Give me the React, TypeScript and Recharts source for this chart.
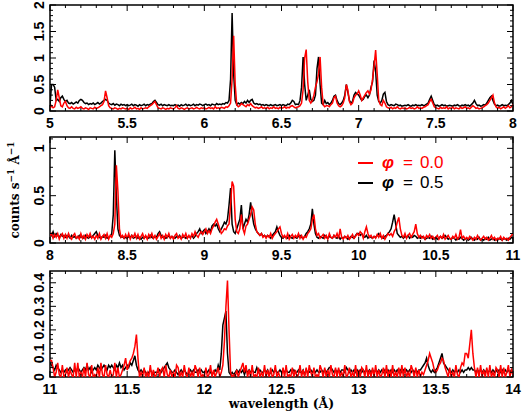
import React from 'react';
import { LineChart, Line, XAxis, YAxis, ReferenceArea } from 'recharts';

// wavelength grid: bins of 0.01 Å starting at each panel's left edge
const BIN = 0.01;
const startA = 5;
const startB = 8;
const startC = 11;

const seriesNames = ['\u03c6 = 0.0', '\u03c6 = 0.5'];
const seriesColors = ['#ff0000', '#000000'];

// ---- panel A (5–8 Å)
const phi05A = [
  .1,.5,.5,.45,.2,.22,.18,.25,.28,.22,
  .18,.2,.15,.14,.16,.13,.15,.17,.15,.2,
  .22,.2,.16,.14,.15,.12,.14,.13,.15,.12,
  .14,.16,.13,.15,.18,.2,.22,.2,.15,.13,
  .12,.14,.11,.13,.12,.1,.13,.11,.12,.1,
  .12,.1,.11,.13,.1,.12,.11,.09,.12,.1,
  .11,.13,.1,.12,.11,.13,.14,.18,.2,.16,
  .12,.11,.13,.1,.12,.11,.1,.12,.1,.11,
  .1,.12,.1,.11,.09,.12,.1,.11,.13,.1,
  .12,.1,.11,.13,.1,.12,.11,.13,.12,.1,
  .12,.13,.11,.12,.1,.13,.12,.11,.14,.12,
  .13,.12,.14,.13,.16,.15,.2,.6,1.85,.7,
  .2,.12,.15,.13,.16,.14,.18,.15,.2,.16,
  .2,.22,.15,.13,.14,.12,.13,.11,.12,.1,
  .12,.11,.1,.12,.1,.11,.12,.1,.11,.12,
  .1,.12,.11,.1,.13,.12,.15,.2,.18,.12,
  .13,.12,.2,.45,1.02,.5,.2,.3,.4,.22,
  .18,.2,.3,.8,1.02,.5,.15,.12,.2,.14,
  .16,.12,.15,.2,.28,.3,.2,.14,.12,.15,
  .2,.3,.5,.35,.2,.15,.18,.3,.35,.32,
  .3,.25,.2,.22,.28,.3,.25,.3,.45,.55,
  .95,.75,.3,.18,.15,.2,.32,.35,.18,.12,
  .1,.12,.11,.1,.13,.12,.1,.11,.09,.1,
  .11,.1,.12,.1,.09,.11,.1,.12,.1,.11,
  .1,.12,.1,.11,.13,.15,.22,.28,.2,.12,
  .1,.11,.09,.1,.12,.1,.11,.09,.1,.11,
  .1,.09,.11,.1,.12,.1,.09,.11,.1,.12,
  .1,.11,.09,.12,.15,.2,.14,.1,.11,.09,
  .1,.12,.11,.15,.2,.25,.28,.2,.13,.1,
  .11,.09,.1,.12,.1,.11,.1,.12,.15,.2,
  .12,
];
const phi00A = [
  .05,.1,.06,.08,.2,.4,.25,.1,.08,.15,
  .18,.1,.06,.05,.08,.05,.04,.07,.05,.06,
  .08,.05,.04,.06,.05,.03,.06,.05,.04,.07,
  .05,.06,.08,.1,.12,.18,.38,.25,.1,.06,
  .05,.04,.06,.05,.03,.05,.04,.06,.05,.04,
  .05,.03,.06,.04,.05,.07,.04,.05,.03,.06,
  .04,.05,.06,.05,.08,.1,.12,.15,.18,.12,
  .06,.05,.04,.06,.05,.03,.05,.04,.06,.05,
  .04,.06,.1,.05,.04,.06,.05,.03,.05,.06,
  .04,.05,.06,.04,.05,.07,.05,.04,.06,.05,
  .06,.04,.05,.07,.05,.06,.04,.08,.05,.06,
  .05,.07,.06,.05,.08,.07,.1,.15,.6,1.42,
  .5,.12,.08,.1,.14,.12,.1,.08,.12,.1,
  .14,.1,.08,.06,.07,.05,.06,.08,.05,.06,
  .05,.07,.04,.06,.05,.08,.05,.06,.04,.07,
  .05,.06,.08,.05,.07,.06,.09,.1,.08,.06,
  .07,.08,.1,.15,.4,1.0,1.16,.55,.2,.15,
  .2,.3,.45,.55,.7,1.02,.45,.12,.08,.1,
  .1,.08,.12,.15,.25,.28,.15,.1,.08,.1,
  .15,.25,.5,.4,.18,.12,.15,.25,.3,.32,
  .38,.3,.2,.25,.3,.35,.38,.32,.4,.6,
  .85,1.15,.7,.2,.12,.1,.2,.15,.08,.06,
  .05,.07,.04,.06,.05,.08,.05,.04,.06,.05,
  .06,.04,.05,.07,.05,.06,.04,.05,.08,.05,
  .06,.05,.07,.08,.1,.12,.18,.22,.15,.08,
  .06,.05,.04,.07,.05,.06,.05,.08,.04,.06,
  .05,.07,.04,.06,.05,.04,.07,.05,.06,.08,
  .05,.06,.04,.07,.1,.08,.05,.06,.04,.05,
  .06,.08,.1,.12,.15,.2,.25,.3,.15,.08,
  .05,.07,.04,.06,.08,.05,.07,.1,.06,.08,
  .12,
];

// ---- panel B (8–11 Å)
const phi05B = [
  .1,.08,.12,.07,.1,.08,.06,.09,.07,.08,
  .06,.08,.07,.05,.08,.06,.07,.05,.06,.08,
  .06,.07,.05,.08,.06,.05,.07,.06,.08,.1,
  .12,.08,.06,.05,.07,.06,.08,.05,.06,.07,
  .1,.3,.98,.5,.15,.08,.06,.07,.05,.06,
  .05,.07,.06,.08,.05,.06,.07,.05,.06,.04,
  .06,.05,.07,.06,.05,.08,.06,.05,.07,.06,
  .1,.12,.08,.06,.07,.05,.06,.08,.05,.07,
  .06,.05,.07,.06,.08,.05,.06,.07,.05,.06,
  .07,.06,.08,.05,.07,.1,.12,.15,.1,.12,
  .14,.1,.12,.15,.12,.18,.2,.18,.2,.15,
  .12,.15,.18,.22,.2,.25,.4,.58,.2,.12,
  .1,.15,.2,.25,.4,.15,.2,.25,.22,.3,
  .43,.3,.2,.15,.12,.1,.08,.1,.07,.08,
  .06,.08,.07,.05,.08,.1,.12,.17,.12,.08,
  .06,.05,.07,.06,.05,.08,.06,.05,.07,.06,
  .05,.07,.08,.06,.05,.07,.1,.12,.15,.2,
  .36,.2,.1,.06,.05,.07,.06,.05,.08,.06,
  .05,.07,.06,.05,.08,.06,.05,.07,.04,.06,
  .05,.07,.06,.04,.05,.07,.06,.05,.08,.1,
  .1,.08,.1,.07,.06,.08,.05,.07,.06,.05,
  .07,.06,.08,.1,.07,.06,.05,.07,.08,.1,
  .12,.15,.22,.3,.2,.1,.08,.06,.07,.05,
  .07,.06,.08,.05,.07,.06,.08,.07,.05,.06,
  .05,.07,.06,.04,.05,.06,.05,.07,.04,.05,
  .06,.04,.05,.07,.05,.06,.08,.06,.04,.05,
  .04,.06,.05,.03,.05,.04,.06,.05,.03,.04,
  .05,.03,.04,.06,.04,.03,.05,.04,.06,.03,
  .04,.03,.05,.04,.06,.03,.04,.05,.03,.04,
  .03,.05,.04,.03,.05,.04,.03,.05,.04,.06,
  .05,
];
const phi00B = [
  .08,.1,.05,.09,.06,.1,.04,.08,.1,.05,
  .09,.05,.1,.06,.04,.08,.1,.05,.07,.04,
  .1,.05,.08,.04,.09,.06,.1,.05,.07,.04,
  .08,.05,.1,.04,.07,.09,.05,.1,.04,.08,
  .06,.1,.2,.82,.55,.15,.06,.08,.05,.09,
  .05,.1,.04,.08,.06,.1,.05,.09,.04,.07,
  .1,.05,.08,.04,.09,.06,.1,.05,.08,.04,
  .07,.1,.05,.08,.04,.09,.06,.1,.05,.07,
  .04,.08,.1,.05,.07,.04,.09,.06,.1,.05,
  .08,.05,.1,.07,.12,.08,.06,.1,.12,.09,
  .12,.15,.1,.13,.1,.15,.18,.22,.25,.2,
  .15,.1,.12,.15,.14,.18,.2,.4,.65,.6,
  .25,.12,.1,.15,.3,.15,.1,.18,.2,.25,
  .3,.38,.35,.2,.12,.1,.08,.1,.06,.08,
  .05,.08,.06,.1,.05,.08,.1,.12,.15,.17,
  .1,.06,.08,.05,.1,.04,.07,.09,.05,.08,
  .06,.1,.05,.08,.04,.07,.06,.1,.12,.15,
  .25,.3,.15,.08,.1,.05,.07,.09,.05,.08,
  .04,.1,.06,.05,.08,.06,.1,.05,.15,.06,
  .04,.07,.05,.08,.04,.06,.09,.05,.07,.1,
  .08,.12,.1,.05,.12,.17,.1,.06,.08,.05,
  .07,.05,.09,.06,.1,.05,.08,.04,.07,.1,
  .08,.1,.07,.12,.15,.22,.27,.15,.08,.06,
  .1,.05,.08,.1,.06,.09,.12,.2,.1,.06,
  .08,.05,.07,.04,.08,.06,.09,.05,.07,.04,
  .06,.08,.04,.07,.05,.09,.04,.06,.08,.05,
  .04,.07,.05,.09,.04,.06,.14,.05,.07,.04,
  .06,.04,.07,.05,.03,.06,.04,.08,.05,.03,
  .05,.07,.04,.06,.03,.05,.08,.04,.06,.03,
  .05,.04,.07,.03,.06,.04,.05,.03,.06,.08,
  .1,
];

// ---- panel C (11–14 Å)
const phi05C = [
  .06,.05,.04,.03,.05,.04,.03,.02,.03,.02,
  .03,.02,.03,.04,.03,.02,.03,.02,.04,.03,
  .02,.03,.04,.03,.05,.03,.04,.02,.03,.04,
  .03,.05,.04,.03,.04,.05,.04,.03,.05,.04,
  .05,.04,.03,.05,.04,.06,.04,.05,.03,.04,
  .05,.04,.06,.05,.07,.09,.05,.03,.02,.03,
  .02,.03,.02,.01,.02,.03,.02,.01,.02,.02,
  .02,.03,.02,.03,.04,.05,.06,.04,.03,.02,
  .02,.03,.02,.01,.02,.03,.02,.03,.02,.01,
  .02,.03,.02,.03,.02,.02,.03,.02,.03,.02,
  .02,.03,.02,.03,.02,.01,.02,.03,.02,.05,
  .03,.1,.22,.25,.28,.1,.02,.01,.02,.01,
  .02,.03,.02,.03,.02,.03,.01,.03,.02,.03,
  .02,.03,.02,.02,.04,.02,.03,.02,.02,.03,
  .02,.03,.01,.02,.03,.02,.03,.02,.02,.03,
  .02,.03,.02,.03,.02,.02,.03,.02,.03,.02,
  .02,.03,.02,.02,.03,.01,.03,.02,.02,.03,
  .02,.03,.02,.03,.02,.02,.03,.02,.03,.02,
  .03,.04,.04,.03,.02,.03,.02,.03,.02,.03,
  .03,.02,.04,.03,.02,.03,.02,.03,.02,.03,
  .02,.03,.02,.03,.02,.03,.02,.03,.02,.03,
  .02,.03,.02,.03,.02,.03,.02,.03,.02,.03,
  .02,.03,.02,.03,.02,.03,.02,.03,.02,.03,
  .02,.03,.02,.03,.02,.03,.02,.03,.02,.03,
  .03,.04,.05,.06,.08,.05,.03,.02,.03,.02,
  .03,.04,.06,.08,.1,.06,.05,.04,.03,.02,
  .02,.03,.02,.03,.02,.03,.02,.03,.02,.03,
  .03,.04,.03,.04,.03,.03,.02,.03,.02,.03,
  .02,.03,.02,.03,.02,.03,.02,.03,.02,.03,
  .02,.03,.02,.03,.02,.03,.02,.03,.02,.03,
  .02,
];
const phi00C = [
  .07,.07,.04,0,.02,.06,.01,0,.05,0,
  .01,.04,0,.03,.01,0,.06,0,.06,0,
  .02,0,.04,0,.06,.01,0,.05,0,.01,
  0,.04,0,.06,.01,0,.05,.01,0,.03,
  0,.01,.06,0,.04,0,.01,.03,.05,.08,
  .03,.05,.07,.08,.1,.13,.18,.08,0,.02,
  0,.04,0,.02,0,.05,0,.03,0,.01,
  .04,0,.03,.04,0,.05,.01,0,.03,0,
  .02,0,.05,.04,0,.02,0,.05,.01,0,
  .04,0,.02,0,.05,.03,0,.04,0,.01,
  0,.04,0,.01,.05,0,.03,0,.02,.04,
  0,.02,.05,.15,.3,.41,.2,.02,0,.01,
  0,.03,0,.02,.04,.06,.02,.05,0,.03,
  0,.05,0,.01,0,.04,0,.02,0,.05,
  0,.03,0,.04,0,.01,.05,0,.02,0,
  0,.04,0,.05,0,.01,0,.04,0,.03,
  0,.01,.05,0,.03,0,.04,0,.05,.02,
  0,.04,0,.01,0,.05,.03,0,.04,0,
  .03,0,.05,.01,0,.04,0,.04,0,.02,
  0,.05,0,.01,.04,0,.02,0,.05,0,
  .03,0,.04,.03,0,.05,0,.03,0,.04,
  0,.05,0,.03,0,.01,.04,0,.05,0,
  .03,0,.05,0,.02,0,.04,0,.05,0,
  .04,0,.02,0,.05,.03,0,.04,0,.03,
  0,.02,.01,.03,.05,.07,.1,.08,.06,.03,
  .02,.03,.05,.06,.08,.07,.04,.02,0,.04,
  0,.02,0,.05,.01,0,.04,.06,.05,.1,
  .1,.08,.14,.2,.1,.04,0,.04,0,.05,
  0,.03,0,.04,0,.05,0,.02,0,.04,
  .03,0,.05,0,.04,0,.02,.05,0,.03,
  .01,
];

// ---- axis labels
const xMajorA = [5, 5.5, 6, 6.5, 7, 7.5, 8];
const xMajorB = [8, 8.5, 9, 9.5, 10, 10.5, 11];
const xMajorC = [11, 11.5, 12, 12.5, 13, 13.5, 14];
const yMajorA = [0, 0.5, 1, 1.5, 2];
const yMajorB = [0, 0.5, 1];
const yMajorC = [0, 0.1, 0.2, 0.3, 0.4];

type Row = { wl: number; phi00: number; phi05: number };
function buildRows(start: number, p00: number[], p05: number[]): Row[] {
  return p00.map((v, i) => ({ wl: Math.round((start + i * BIN) * 1000) / 1000, phi00: v, phi05: p05[i] }));
}
function gridTicks(lo: number, hi: number, step: number): number[] {
  const n = Math.floor((hi - lo) / step + 1e-6);
  const out: number[] = [];
  for (let i = 0; i <= n; i++) out.push(Math.round((lo + i * step) * 1000) / 1000);
  return out;
}
const isIn = (arr: number[], v: number) => arr.some((m) => Math.abs(m - v) < 1e-6);

const PLOT_W = 463;
const TICK_FONT = "'Liberation Sans', Arial, Helvetica, sans-serif";
const TITLE_FONT = "'DejaVu Serif', 'Liberation Serif', serif";

const XTick = (props: any) => {
  const { x, y, payload, majors, plotH } = props;
  const v = payload.value;
  const major = isIn(majors, v);
  const len = major ? 6 : 3;
  return (
    <g>
      <line x1={x} x2={x} y1={y} y2={y - len} stroke="#000" strokeWidth={1} />
      <line x1={x} x2={x} y1={y - plotH} y2={y - plotH + len} stroke="#000" strokeWidth={1} />
      {major && (
        <text x={x} y={y + 17} textAnchor="middle" fontFamily={TICK_FONT} fontWeight={700} fontSize={14} fill="#000">
          {String(v)}
        </text>
      )}
    </g>
  );
};

const YTick = (props: any) => {
  const { x, y, payload, majors } = props;
  const v = payload.value;
  const major = isIn(majors, v);
  const len = major ? 6 : 3;
  const tx = x - 6;
  return (
    <g>
      <line x1={x} x2={x + len} y1={y} y2={y} stroke="#000" strokeWidth={1} />
      <line x1={x + PLOT_W} x2={x + PLOT_W - len} y1={y} y2={y} stroke="#000" strokeWidth={1} />
      {major && (
        <text
          x={tx}
          y={y}
          transform={`rotate(-90 ${tx} ${y})`}
          textAnchor="middle"
          fontFamily={TICK_FONT}
          fontWeight={700}
          fontSize={14}
          fill="#000"
        >
          {String(v)}
        </text>
      )}
    </g>
  );
};

type PanelProps = {
  rows: Row[];
  xLo: number;
  xHi: number;
  xMajor: number[];
  yMax: number;
  yMajor: number[];
  yMinor: number;
  height: number;
  marginTop: number;
  xAxisH: number;
  xLabel?: any;
  yLabel?: any;
};

function Panel(p: PanelProps) {
  const plotH = p.height - p.marginTop - p.xAxisH;
  const xTicks = gridTicks(p.xLo, p.xHi, 0.1);
  const yTicks = gridTicks(0, p.yMax, p.yMinor);
  return (
    <LineChart width={523} height={p.height} data={p.rows} margin={{ top: p.marginTop, right: 10, bottom: 0, left: 0 }}>
      <XAxis
        dataKey="wl"
        type="number"
        domain={[p.xLo, p.xHi]}
        ticks={xTicks}
        interval={0}
        tickSize={0}
        tickMargin={0}
        axisLine={false}
        tickLine={false}
        height={p.xAxisH}
        allowDataOverflow
        tick={(tp: any) => <XTick {...tp} majors={p.xMajor} plotH={plotH} />}
        label={p.xLabel}
      />
      <YAxis
        type="number"
        domain={[0, p.yMax]}
        ticks={yTicks}
        interval={0}
        tickSize={0}
        tickMargin={0}
        axisLine={false}
        tickLine={false}
        width={50}
        allowDataOverflow
        tick={(tp: any) => <YTick {...tp} majors={p.yMajor} />}
        label={p.yLabel}
      />
      <Line dataKey="phi05" name={seriesNames[1]} stroke={seriesColors[1]} strokeWidth={1.5} dot={false} isAnimationActive={false} type="linear" />
      <Line dataKey="phi00" name={seriesNames[0]} stroke={seriesColors[0]} strokeWidth={1.5} dot={false} isAnimationActive={false} type="linear" />
      <ReferenceArea x1={p.xLo} x2={p.xHi} y1={0} y2={p.yMax} fill="none" fillOpacity={0} stroke="#000" strokeWidth={1.5} ifOverflow="visible" />
    </LineChart>
  );
}

const rowsA = buildRows(startA, phi00A, phi05A);
const rowsB = buildRows(startB, phi00B, phi05B);
const rowsC = buildRows(startC, phi00C, phi05C);

const yTitle = () => (
  <text
    x={19}
    y={58}
    transform="rotate(-90 19 58)"
    textAnchor="middle"
    fontFamily={TITLE_FONT}
    fontWeight={700}
    fontSize={12}
    fill="#000"
  >
    counts s<tspan dy={-5} fontSize={9}>{'\u22121'}</tspan>
    <tspan dy={5}>{' \u00c5'}</tspan>
    <tspan dy={-5} fontSize={9}>{'\u22121'}</tspan>
  </text>
);

const xTitle = () => (
  <text x={281.5} y={144} textAnchor="middle" fontFamily={TITLE_FONT} fontWeight={700} fontSize={12.5} fill="#000">
    wavelength ({'\u00c5'})
  </text>
);

function LegendRow({ idx, top }: { idx: number; top: number }) {
  const color = seriesColors[idx];
  const parts = seriesNames[idx].split(' = ');
  return (
    <div
      style={{
        position: 'absolute',
        left: 358,
        top,
        height: 20,
        display: 'flex',
        alignItems: 'center',
        color,
        fontFamily: TICK_FONT,
        fontSize: 17,
        lineHeight: '20px',
        whiteSpace: 'nowrap',
      }}
    >
      <span style={{ display: 'inline-block', width: 15, height: 2, background: color }} />
      <span style={{ marginLeft: 9, fontStyle: 'italic', fontWeight: 700 }}>{parts[0]}</span>
      <span style={{ marginLeft: 9 }}>=</span>
      <span style={{ marginLeft: 7 }}>{parts[1]}</span>
    </div>
  );
}

export default function App() {
  return (
    <div style={{ position: 'absolute', left: 0, top: 0, width: 523, height: 415, background: '#fff', overflow: 'hidden' }}>
      <div style={{ position: 'absolute', left: 0, top: 0 }}>
        <Panel rows={rowsA} xLo={5} xHi={8} xMajor={xMajorA} yMax={2} yMajor={yMajorA} yMinor={0.1} height={132} marginTop={5} xAxisH={21} />
      </div>
      <div style={{ position: 'absolute', left: 0, top: 132 }}>
        <Panel rows={rowsB} xLo={8} xHi={11} xMajor={xMajorB} yMax={1.12} yMajor={yMajorB} yMinor={0.1} height={132} marginTop={5} xAxisH={21} yLabel={yTitle} />
      </div>
      <div style={{ position: 'absolute', left: 0, top: 264 }}>
        <Panel rows={rowsC} xLo={11} xHi={14} xMajor={xMajorC} yMax={0.45} yMajor={yMajorC} yMinor={0.02} height={151} marginTop={7} xAxisH={38} xLabel={xTitle} />
      </div>
      <LegendRow idx={0} top={153} />
      <LegendRow idx={1} top={173} />
    </div>
  );
}
